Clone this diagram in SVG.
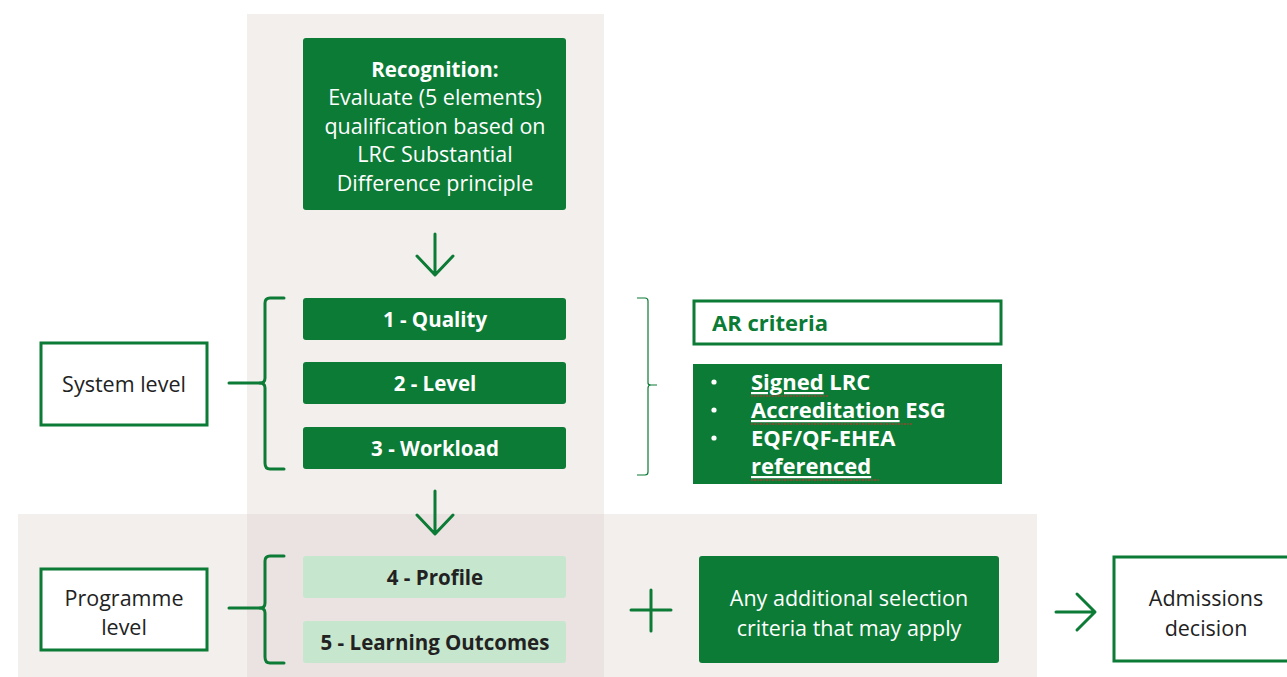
<svg xmlns="http://www.w3.org/2000/svg" width="1287" height="677" viewBox="0 0 1287 677">
<style>
.t{font-family:"Open Sans","Noto Sans","Liberation Sans",sans-serif;font-size:21.5px;text-anchor:middle}
.w{fill:#ffffff}
.d{fill:#222222}
.b{font-weight:bold;font-size:20.5px}
.a{font-weight:bold;font-size:22px;text-anchor:start}
.g{fill:#0b7b35}
.lg{fill:#c6e6cd}
.ob{fill:#ffffff;stroke:#0b7b35;stroke-width:3}
.br{fill:none;stroke:#0b7b35;stroke-width:3;stroke-linecap:round;stroke-linejoin:round}
.ar{fill:none;stroke:#0b7b35;stroke-width:3;stroke-linecap:round;stroke-linejoin:round}
.sq{fill:none;stroke:#d03030;stroke-width:1;stroke-dasharray:2 1}
</style>
<rect width="1287" height="677" fill="#ffffff"/>
<g id="panels">
<rect x="247" y="14" width="357" height="663" fill="#f3efed"/>
<rect x="18" y="514" width="1019" height="163" fill="#f3efed"/>
<rect x="247" y="514" width="357" height="163" fill="#ebe3e1"/>
</g>
<g id="recognition">
<rect x="303" y="38" width="263" height="172" rx="3" class="g"/>
<text class="t w b" x="435" y="77">Recognition:</text>
<text class="t w" x="435" y="105">Evaluate (5 elements)</text>
<text class="t w" x="435" y="134">qualification based on</text>
<text class="t w" x="435" y="162">LRC Substantial</text>
<text class="t w" x="435" y="191">Difference principle</text>
</g>
<g id="quality">
<rect x="303" y="298" width="263" height="42" rx="3" class="g"/>
<text class="t w b" x="435" y="327">1 - Quality</text>
</g>
<g id="level">
<rect x="303" y="362" width="263" height="42" rx="3" class="g"/>
<text class="t w b" x="435" y="391">2 - Level</text>
</g>
<g id="workload">
<rect x="303" y="427" width="263" height="42" rx="3" class="g"/>
<text class="t w b" x="435" y="456">3 - Workload</text>
</g>
<g id="system-level">
<rect x="41" y="343" width="166" height="82" class="ob"/>
<text class="t d" x="124" y="392">System level</text>
</g>
<g id="ar-criteria">
<rect x="694" y="301" width="307" height="43" class="ob"/>
<text class="t a" x="712" y="331" style="fill:#0b7b35">AR criteria</text>
</g>
<g id="ar-list">
<rect x="693" y="364" width="309" height="120" class="g"/>
<g fill="#ffffff">
<circle cx="714" cy="382" r="2.6"/>
<circle cx="714" cy="410" r="2.6"/>
<circle cx="714" cy="438" r="2.6"/>
</g>
<g class="t w a">
<text x="751" y="390"><tspan text-decoration="underline">Signed</tspan> LRC</text>
<text x="751" y="418"><tspan text-decoration="underline">Accreditation</tspan> ESG</text>
<text x="751" y="446">EQF/QF-EHEA</text>
<text x="751" y="474" text-decoration="underline">referenced</text>
</g>
<path class="sq" d="M751 396 H828 M751 424 H912 M751 480 H880"/>
</g>
<g id="profile">
<rect x="303" y="556" width="263" height="42" rx="3" class="lg"/>
<text class="t d b" x="435" y="585">4 - Profile</text>
</g>
<g id="outcomes">
<rect x="303" y="621" width="263" height="42" rx="3" class="lg"/>
<text class="t d b" x="435" y="650">5 - Learning Outcomes</text>
</g>
<g id="programme-level">
<rect x="41" y="569" width="166" height="81" class="ob"/>
<text class="t d" x="124" y="606">Programme</text>
<text class="t d" x="124" y="635">level</text>
</g>
<g id="additional">
<rect x="699" y="556" width="300" height="107" rx="3" class="g"/>
<text class="t w" x="849" y="606">Any additional selection</text>
<text class="t w" x="849" y="636">criteria that may apply</text>
</g>
<g id="admissions">
<rect x="1114" y="557" width="180" height="104" class="ob"/>
<text class="t d" x="1206" y="606">Admissions</text>
<text class="t d" x="1206" y="636">decision</text>
</g>
<g id="connectors">
<path class="ar" d="M435 234 V274 M417 256 L435 275 L453 256"/>
<path class="ar" d="M435 491 V533 M417 515 L435 534 L453 515"/>
<path class="br" d="M284 298 H270 Q265 298 265 303 V378 Q265 383 260 383 Q265 383 265 388 V463 Q265 469 270 469 H284"/>
<path class="br" d="M229 383 H260"/>
<path class="br" d="M284 556 H270 Q265 556 265 561 V603 Q265 608 260 608 Q265 608 265 613 V657 Q265 663 270 663 H284"/>
<path class="br" d="M229 608 H260"/>
<path fill="none" stroke="#0b7b35" stroke-width="1.2" d="M637 298 H645 Q648 298 648 301 V383 Q648 385 651 385 H657 M651 385 Q648 385 648 388 V472 Q648 475 645 475 H637"/>
<path class="ar" d="M651 590 V631 M631 610 H671"/>
<path class="ar" d="M1056 612 H1094 M1077 594 L1095 612 L1077 630"/>
</g>
</svg>
